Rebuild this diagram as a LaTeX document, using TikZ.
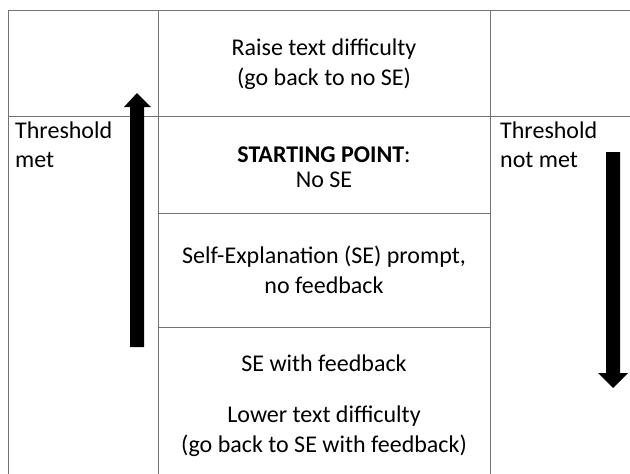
\documentclass[tikz,border=0pt]{standalone}
\usepackage{fontspec}
\setmainfont{Carlito}
\usepackage{tikz}

\begin{document}
\begin{tikzpicture}[x=1pt, y=-1pt,
    font=\fontsize{24}{30}\selectfont,
    grid/.style={draw=black!55, line width=1pt},
    lbl/.style={anchor=base, inner sep=0pt},
    side/.style={anchor=base west, inner sep=0pt}]
    \useasboundingbox (0,0) rectangle (630,474);

    % table rules
    \draw[grid] (8,474) -- (8,10) -- (630,10);
    \draw[grid] (8,116) -- (630,116);
    \foreach \x in {158,490}
        \draw[grid] (\x,10) -- (\x,474);
    \foreach \y in {213,327}
        \draw[grid] (158,\y) -- (490,\y);

    % middle column, one node per line
    \foreach \y/\txt [count=\i] in {
            55/{Raise text difficulty},
            85/{(go back to no SE)},
            162/{\textbf{STARTING POINT}:},
            187/{No SE},
            263/{Self-Explanation (SE) prompt,},
            293/{no feedback},
            371/{SE with feedback},
            422/{Lower text difficulty},
            452/{(go back to SE with feedback)}} {
        \node[lbl] (mid\i) at (324,\y) {\txt};
    }

    % side labels
    \node[side] (metA) at (15,138) {Threshold};
    \node[side] (metB) at (15,167) {met};
    \node[side] (notA) at (500,138) {Threshold};
    \node[side] (notB) at (500,167) {not met};

    % thick arrows
    \fill (130,347) -- (130,107) -- (124,107) -- (137,93) -- (151,107)
        -- (144,107) -- (144,347) -- cycle;
    \fill (606,152) -- (606,373) -- (598,373) -- (613,388) -- (628,373)
        -- (620,373) -- (620,152) -- cycle;
\end{tikzpicture}
\end{document}
